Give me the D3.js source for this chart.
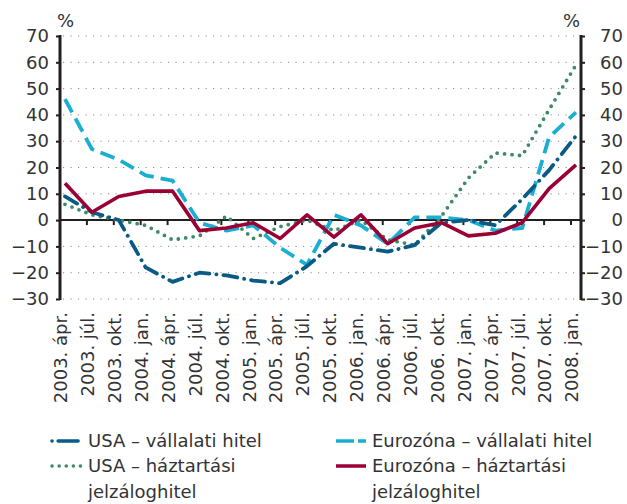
<!DOCTYPE html>
<html>
<head>
<meta charset="utf-8">
<script src="https://cdn.jsdelivr.net/npm/d3@7"></script>
<style>
  body { margin: 0; background: #fff; }
  text { font-family: "DejaVu Sans", "Liberation Sans", Arial, sans-serif; fill: #333; }
</style>
</head>
<body>
<script>
const categories = [
  "2003. ápr.", "2003. júl.", "2003. okt.", "2004. jan.", "2004. ápr.",
  "2004. júl.", "2004. okt.", "2005. jan.", "2005. ápr.", "2005. júl.",
  "2005. okt.", "2006. jan.", "2006. ápr.", "2006. júl.", "2006. okt.",
  "2007. jan.", "2007. ápr.", "2007. júl.", "2007. okt.", "2008. jan."
];
const usaCorporate = [9, 3, 0, -18, -23.5, -20, -21, -23, -24, -17.5, -9, -10.5, -12, -9.5, -1, 0, -2, 8, 19, 32];
const usaMortgage = [6, 2, 0, -2, -7.5, -6, 1.5, -7, -2.5, 0, -4, 0, -7.5, -9.5, 1.5, 16, 25.5, 24.5, 42, 59];
const euroCorporate = [46, 27, 23, 17, 15, -1, -4, -2, -10.5, -17, 2, -2, -9, 1, 1, 0, -4, -3, 31.5, 41];
const euroMortgage = [14, 3, 9, 11, 11, -4, -3, -1, -7, 2, -6.5, 2, -9, -3, -1, -6, -5, -1, 12, 21];
const yTicks = [-30, -20, -10, 0, 10, 20, 30, 40, 50, 60, 70];
const seriesNames = [
  ["USA – vállalati hitel"],
  ["Eurozóna – vállalati hitel"],
  ["USA – háztartási", "jelzáloghitel"],
  ["Eurozóna – háztartási", "jelzáloghitel"]
];

const W = 627, H = 504;
const plotLeft = 60, plotRight = 581, plotTop = 36, plotBottom = 299;
const dark = "#231f20";
const fontSize = "18px";

const svg = d3.select("body").append("svg").attr("width", W).attr("height", H);

const x = d3.scalePoint().domain(categories).range([65, 576]);
const y = d3.scaleLinear().domain([-30, 70]).range([plotBottom, plotTop]);
const tickShift = -5; // category ticks sit slightly left of the points

// dotted gridlines
svg.append("g")
  .selectAll("line")
  .data(yTicks.filter(d => d !== 0))
  .enter()
  .append("line")
  .attr("x1", plotLeft + 3)
  .attr("x2", plotRight - 2)
  .attr("y1", d => y(d))
  .attr("y2", d => y(d))
  .attr("stroke", "#8a8a8a")
  .attr("stroke-width", 1)
  .attr("stroke-dasharray", "1.2,6.3");

// zero line with category ticks
svg.append("line")
  .attr("x1", plotLeft).attr("x2", plotRight)
  .attr("y1", y(0)).attr("y2", y(0))
  .attr("stroke", dark).attr("stroke-width", 2);

svg.append("g")
  .selectAll("line")
  .data(categories.slice(1))
  .enter()
  .append("line")
  .attr("x1", d => x(d) + tickShift)
  .attr("x2", d => x(d) + tickShift)
  .attr("y1", y(0))
  .attr("y2", y(0) + 5)
  .attr("stroke", dark)
  .attr("stroke-width", 2);

// left and right axes
const fmt = d => d < 0 ? "−" + Math.abs(d) : d;
const yAxisL = svg.append("g")
  .attr("transform", "translate(" + plotLeft + ",0)")
  .call(d3.axisLeft(y).tickValues(yTicks).tickSize(4).tickPadding(7).tickFormat(fmt));
const yAxisR = svg.append("g")
  .attr("transform", "translate(" + plotRight + ",0)")
  .call(d3.axisRight(y).tickValues(yTicks).tickSize(4).tickPadding(4).tickFormat(fmt));

[yAxisL, yAxisR].forEach(function(g) {
  g.select(".domain").attr("stroke", dark).attr("stroke-width", 3)
    .attr("d", "M0," + (plotTop - 1) + "V" + (plotBottom + 1));
  g.selectAll(".tick line").attr("stroke", dark).attr("stroke-width", 2);
  g.selectAll(".tick text")
    .style("font-size", fontSize)
    .style("font-family", "DejaVu Sans, Liberation Sans, sans-serif")
    .attr("fill", "#333");
});
// right-hand labels are right-aligned against the edge
yAxisR.selectAll(".tick text").attr("text-anchor", "end").attr("x", 42);

svg.append("text").attr("x", 57).attr("y", 27).style("font-size", fontSize).text("%");
svg.append("text").attr("x", 580).attr("y", 27).attr("text-anchor", "end").style("font-size", fontSize).text("%");

// category labels, rotated
svg.append("g")
  .selectAll("text")
  .data(categories)
  .enter()
  .append("text")
  .attr("transform", d => "translate(" + (x(d) + tickShift + 1) + ",312)rotate(-90)")
  .attr("text-anchor", "end")
  .attr("dy", "0.35em")
  .style("font-size", fontSize)
  .text(d => d);

// series
const series = [
  { values: usaMortgage, color: "#3f8a66", width: 3.8, dash: "0,7.5", cap: "round" },
  { values: euroCorporate, color: "#1aaed2", width: 3.8, dash: "15,7", cap: "butt" },
  { values: usaCorporate, color: "#0a5a86", width: 3.8, dash: "14,7,0.1,7", cap: "round" },
  { values: euroMortgage, color: "#9a0036", width: 3.6, dash: null, cap: "butt" }
];

const line = d3.line()
  .x((d, i) => x(categories[i]))
  .y(d => y(d));

svg.append("g")
  .selectAll("path")
  .data(series)
  .enter()
  .append("path")
  .attr("d", d => line(d.values))
  .attr("fill", "none")
  .attr("stroke", d => d.color)
  .attr("stroke-width", d => d.width)
  .attr("stroke-dasharray", d => d.dash)
  .attr("stroke-linecap", d => d.cap)
  .attr("stroke-linejoin", "round");

// legend
const legendItems = [
  { name: seriesNames[0], color: "#0a5a86", dash: "0.1,6,20,100", cap: "round", x: 52, y: 441 },
  { name: seriesNames[1], color: "#1aaed2", dash: "18,4,8,100", cap: "butt", x: 336, y: 441 },
  { name: seriesNames[2], color: "#3f8a66", dash: "0.1,7", cap: "round", x: 52, y: 466 },
  { name: seriesNames[3], color: "#9a0036", dash: null, cap: "butt", x: 336, y: 466 }
];

const legend = svg.append("g")
  .selectAll("g")
  .data(legendItems)
  .enter()
  .append("g")
  .attr("transform", d => "translate(" + d.x + "," + d.y + ")");

legend.append("line")
  .attr("x1", 0).attr("x2", 30)
  .attr("y1", 0).attr("y2", 0)
  .attr("stroke", d => d.color)
  .attr("stroke-width", 3.5)
  .attr("stroke-dasharray", d => d.dash)
  .attr("stroke-linecap", d => d.cap);

legend.append("text")
  .attr("x", 36)
  .attr("y", 0)
  .style("font-size", fontSize)
  .selectAll("tspan")
  .data(d => d.name)
  .enter()
  .append("tspan")
  .attr("x", 36)
  .attr("dy", (d, i) => i === 0 ? "0.35em" : "1.45em")
  .text(d => d);
</script>
</body>
</html>
